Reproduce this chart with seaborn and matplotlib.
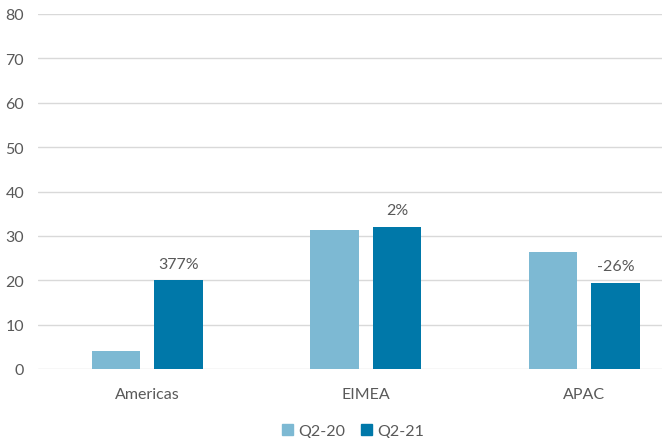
import matplotlib.pyplot as plt
import pandas as pd
import seaborn as sns
from matplotlib.patches import Patch

# ---------------------------------------------------------------------------
# Data
# ---------------------------------------------------------------------------
REGIONS = ["Americas", "EIMEA", "APAC"]
Q2_20 = [4.1, 31.3, 26.3]
Q2_21 = [20.0, 32.0, 19.4]
CHANGE_LABELS = ["377%", "2%", "-26%"]
SERIES = ["Q2-20", "Q2-21"]
COLORS = {"Q2-20": "#7DB9D3", "Q2-21": "#0078A9"}
TEXT_GREY = "#595959"

df = pd.DataFrame(
    {
        "region": REGIONS * 2,
        "period": ["Q2-20"] * len(REGIONS) + ["Q2-21"] * len(REGIONS),
        "value": Q2_20 + Q2_21,
    }
)

sns.set_theme(style="white")
plt.rcParams["font.family"] = ["Lato", "DejaVu Sans"]

fig = plt.figure(figsize=(6.62, 4.39), dpi=100)
ax = fig.add_axes([38 / 662, 69 / 439, 1 - 38 / 662, 355 / 439])

sns.barplot(
    data=df,
    x="region",
    y="value",
    hue="period",
    hue_order=SERIES,
    order=REGIONS,
    palette=COLORS,
    width=0.572,
    gap=0.23,
    saturation=1,
    linewidth=0,
    legend=False,
    ax=ax,
)

# change labels above the Q2-21 bars
for i, (val, lab) in enumerate(zip(Q2_21, CHANGE_LABELS)):
    ax.annotate(
        lab,
        (i + 0.143, val),
        xytext=(0, 7),
        textcoords="offset points",
        ha="center",
        va="bottom",
        fontsize=11.5,
        color=TEXT_GREY,
    )

ax.set_ylim(0, 80)
ax.set_xlim(-0.5, 2.356)
ax.set_yticks(range(0, 81, 10))
ax.yaxis.grid(True, color="#D9D9D9", linewidth=1)
ax.set_axisbelow(True)
for s in ax.spines.values():
    s.set_visible(False)
ax.set_xlabel("")
ax.set_ylabel("")
ax.tick_params(axis="both", length=0, labelsize=11.5, colors=TEXT_GREY)
ax.tick_params(axis="x", pad=13)
ax.tick_params(axis="y", pad=10)

handles = [Patch(color=COLORS[s], label=s) for s in SERIES]
fig.legend(
    handles=handles,
    loc="center",
    bbox_to_anchor=(353 / 662, 1 - 432 / 439),
    ncol=2,
    frameon=False,
    fontsize=11.5,
    labelcolor=TEXT_GREY,
    handlelength=0.7,
    handleheight=0.7,
    handletextpad=0.3,
    columnspacing=1.0,
)

fig.savefig("out.png", dpi=100)
